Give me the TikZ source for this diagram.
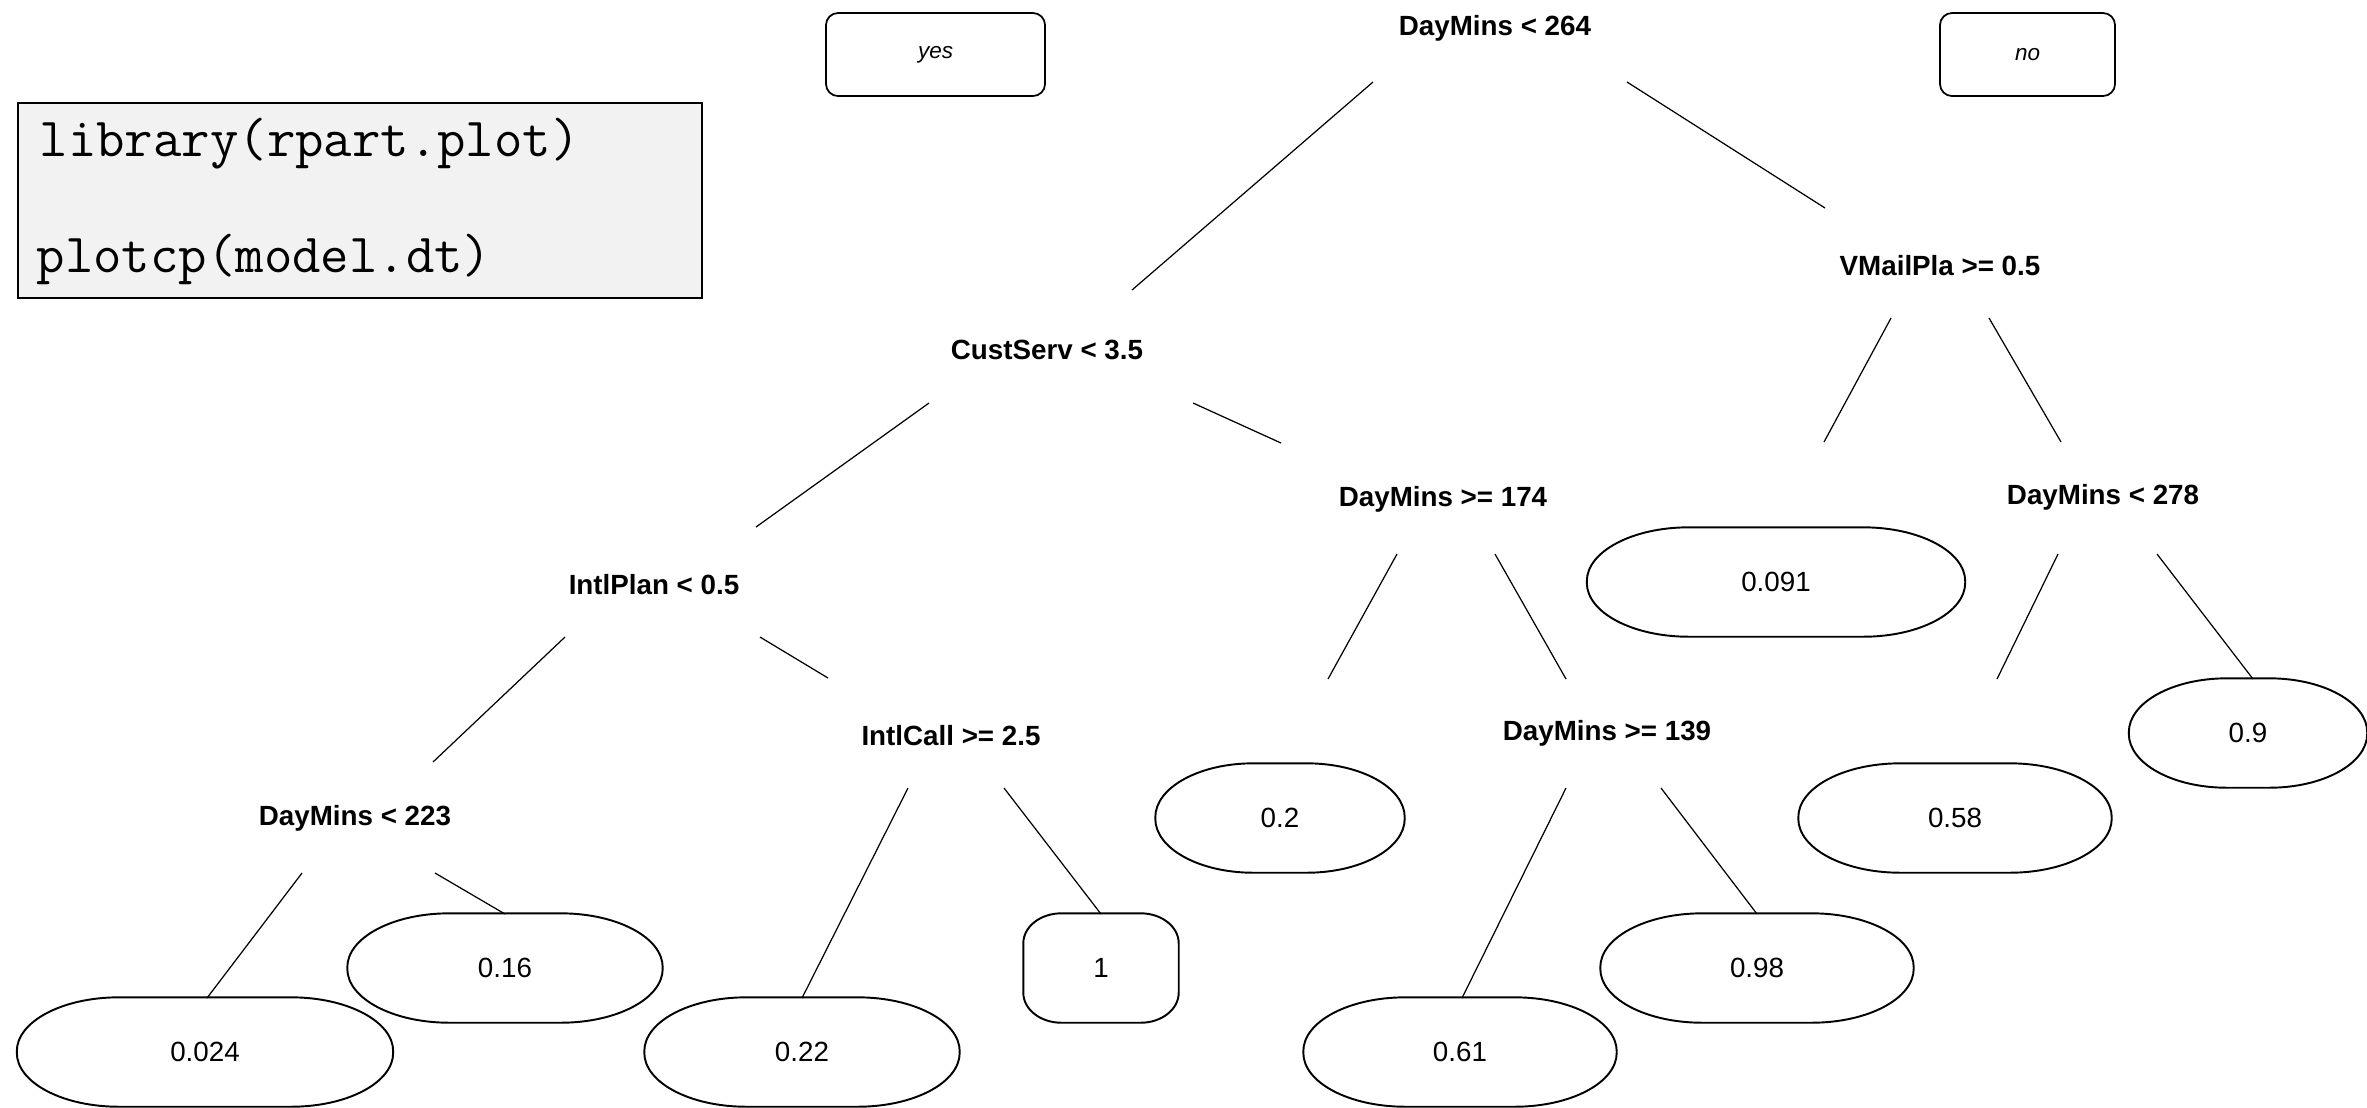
\documentclass[tikz,border=0pt]{standalone}
\usepackage{fontspec}
\setmainfont{Liberation Sans}
\usepackage{xcolor}
\definecolor{codegray}{HTML}{F2F2F2}
\def\leafh{1.08cm}
\newcommand{\drawleaf}[3]{
  \draw[leafline] ([xshift=#2]#1.north west) -- ([xshift=-#2]#1.north east)
    arc[start angle=90, end angle=0, x radius=#2, y radius=#3]
    -- ([yshift=#3]#1.south east)
    arc[start angle=0, end angle=-90, x radius=#2, y radius=#3]
    -- ([xshift=#2]#1.south west)
    arc[start angle=270, end angle=180, x radius=#2, y radius=#3]
    -- ([yshift=-#3]#1.north west)
    arc[start angle=180, end angle=90, x radius=#2, y radius=#3] -- cycle;
}
\tikzset{
  split/.style={font=\bfseries\fontsize{7.9}{9}\selectfont, inner sep=1pt},
  leaf/.style={rectangle, minimum height=\leafh, inner sep=0pt, font=\fontsize{7.9}{9}\selectfont},
  leafline/.style={line width=0.55pt},
  legend/.style={draw, rounded corners=0.12cm, minimum height=0.83cm, line width=0.5pt, font=\itshape\fontsize{6.4}{8}\selectfont},
  codebox/.style={draw, fill=codegray, minimum width=6.84cm, minimum height=1.95cm, line width=0.6pt},
  codetext/.style={font=\ttfamily\fontsize{15.7}{18}\selectfont, inner sep=0pt, anchor=base west},
  branch/.style={line width=0.35pt}
}

\begin{document}
\begin{tikzpicture}
    \useasboundingbox (0,0) rectangle (23.67,-11.07);
    % code box and legend
    \node[codebox] (code) at (3.60,-2.005) {};
    \node[codetext] (code1) at (0.39,-1.56) {library(rpart.plot)};
    \node[codetext] (code2) at (0.36,-2.72) {plotcp(model.dt)};
    \node[legend, minimum width=2.19cm] (yes) at (9.355,-0.545) {yes};
    \node[legend, minimum width=1.75cm] (no) at (20.275,-0.545) {no};
    % splits
    \node[split] (r) at (14.95,-0.28) {DayMins < 264};
    \node[split] (vm) at (19.40,-2.66) {VMailPla >= 0.5};
    \node[split] (cs) at (10.47,-3.50) {CustServ < 3.5};
    \node[split] (d174) at (14.43,-4.99) {DayMins >= 174};
    \node[split] (d278) at (21.03,-4.97) {DayMins < 278};
    \node[split] (ip) at (6.54,-5.85) {IntlPlan < 0.5};
    \node[split] (ic) at (9.51,-7.36) {IntlCall >= 2.5};
    \node[split] (d139) at (16.07,-7.33) {DayMins >= 139};
    \node[split] (d223) at (3.55,-8.18) {DayMins < 223};
    % leaves
    \node[leaf, minimum width=3.77cm] (l091) at (17.76,-5.82) {0.091};
    \node[leaf, minimum width=2.48cm] (l2) at (12.80,-8.18) {0.2};
    \node[leaf, minimum width=3.12cm] (l58) at (19.55,-8.18) {0.58};
    \node[leaf, minimum width=2.37cm] (l9) at (22.48,-7.33) {0.9};
    \node[leaf, minimum width=3.75cm] (l024) at (2.05,-10.52) {0.024};
    \node[leaf, minimum width=3.14cm] (l16) at (5.05,-9.68) {0.16};
    \node[leaf, minimum width=3.14cm] (l22) at (8.02,-10.52) {0.22};
    \node[leaf, minimum width=1.54cm] (l1) at (11.01,-9.68) {1};
    \node[leaf, minimum width=3.12cm] (l61) at (14.60,-10.52) {0.61};
    \node[leaf, minimum width=3.12cm] (l98) at (17.57,-9.68) {0.98};
    \foreach \n/\rx/\ry in {l091/1.02cm/0.54cm, l2/0.98cm/0.54cm, l58/1.02cm/0.54cm,
        l9/0.98cm/0.54cm, l024/1.02cm/0.54cm, l16/1.02cm/0.54cm, l22/1.02cm/0.54cm,
        l1/0.38cm/0.30cm, l61/1.02cm/0.54cm, l98/1.02cm/0.54cm} {
      \drawleaf{\n}{\rx}{\ry}
    }
    % branches
    \foreach \a/\ax/\ay/\b/\bx/\by in {
        r/-1.22/-0.54/cs/0.85/0.60, r/1.32/-0.54/vm/-1.15/0.58,
        vm/-0.49/-0.52/l091/0.48/1.40, vm/0.49/-0.52/d278/-0.42/0.55,
        cs/-1.18/-0.53/ip/1.02/0.58, cs/1.46/-0.53/d174/-1.62/0.56,
        ip/-0.89/-0.52/d223/0.78/0.56, ip/1.06/-0.52/ic/-1.23/0.58,
        d174/-0.46/-0.55/l2/0.48/1.39, d174/0.52/-0.55/d139/-0.41/0.54,
        d278/-0.45/-0.57/l58/0.42/1.39, d278/0.54/-0.57/l9/0.05/0.54,
        d223/-0.53/-0.55/l024/0.02/0.54, d223/0.80/-0.55/l16/0/0.54,
        ic/-0.43/-0.52/l22/0/0.54, ic/0.53/-0.52/l1/0/0.54,
        d139/-0.41/-0.55/l61/0.02/0.54, d139/0.54/-0.55/l98/0/0.54} {
      \draw[branch] ([shift={(\ax,\ay)}]\a.center) -- ([shift={(\bx,\by)}]\b.center);
    }
\end{tikzpicture}
\end{document}
